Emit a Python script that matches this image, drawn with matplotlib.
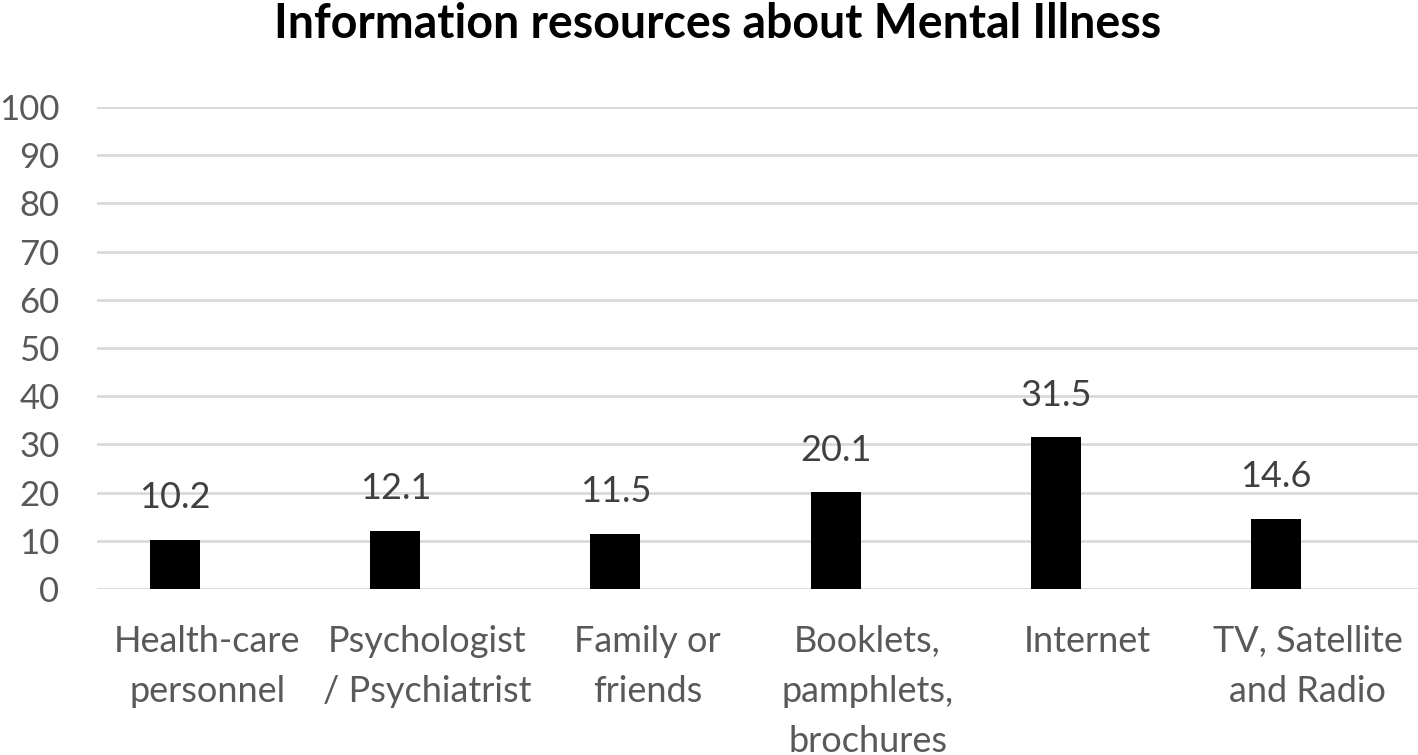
import matplotlib.pyplot as plt
import numpy as np

categories = ["Health-care\npersonnel", "Psychologist\n/ Psychiatrist", "Family or\nfriends",
              "Booklets,\npamphlets,\nbrochures", "Internet", "TV, Satellite\nand Radio"]
values = [10.2, 12.1, 11.5, 20.1, 31.5, 14.6]
labels = ["10.2", "12.1", "11.5", "20.1", "31.5", "14.6"]

plt.rcParams['font.family'] = ['Lato', 'DejaVu Sans']

fig = plt.figure(figsize=(14.18, 7.55), dpi=100)
ax = fig.add_axes([0.0684, 0.2199, 0.9316, 0.6384])

x = np.arange(len(categories))
offset = -0.145
ax.bar(x + offset, values, width=0.227, color='black', zorder=3)
for xi, v, lab in zip(x, values, labels):
    ax.text(xi + offset, v + 5.3, lab, ha='center', va='bottom', fontsize=26, color='#404040')

ax.set_xlim(-0.5, 5.5)
ax.set_ylim(0, 100)
ax.set_yticks(range(0, 101, 10))
ax.set_xticks(x)
ax.set_xticklabels(categories, linespacing=1.62)
ax.tick_params(axis='y', length=0, pad=27, labelsize=25, labelcolor='#595959')
ax.tick_params(axis='x', length=0, pad=26, labelsize=26, labelcolor='#595959')
ax.yaxis.grid(True, color='#d9d9d9', linewidth=2, zorder=0)
ax.set_axisbelow(True)
for s in ax.spines.values():
    s.set_visible(False)

fig.text(0.506, 0.968, "Information resources about Mental Illness", ha='center', va='center',
         fontsize=33.5, fontweight='bold', color='black')

fig.savefig('out.png', dpi=100)
